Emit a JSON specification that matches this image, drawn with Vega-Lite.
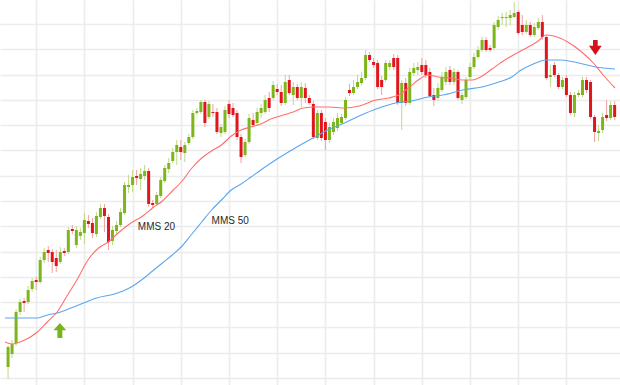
{
  "$schema": "https://vega.github.io/schema/vega-lite/v6.json",
  "width": 620,
  "height": 385,
  "autosize": {"type": "fit", "contains": "padding"},
  "padding": 0,
  "background": "white",
  "config": {
    "view": {"stroke": null},
    "axis": {"domain": false, "ticks": false, "labels": false, "title": null, "gridColor": "#ececec", "gridWidth": 1.6, "minExtent": 0, "maxExtent": 0}
  },
  "datasets": {
    "candles": [
      {"i":0,"o":33,"h":55,"l":21,"c":53},{"i":1,"o":46,"h":60,"l":42,"c":56},{"i":2,"o":57,"h":91,"l":54,"c":88},{"i":3,"o":88,"h":101,"l":85,"c":98},
      {"i":4,"o":99,"h":102,"l":88,"c":97},{"i":5,"o":98,"h":114,"l":96,"c":110},{"i":6,"o":111,"h":122,"l":108,"c":119},{"i":7,"o":120,"h":123,"l":110,"c":118},
      {"i":8,"o":118,"h":143,"l":116,"c":140},{"i":9,"o":140,"h":152,"l":137,"c":148},{"i":10,"o":150,"h":154,"l":138,"c":147},{"i":11,"o":148,"h":151,"l":127,"c":138},
      {"i":12,"o":142,"h":150,"l":128,"c":134},{"i":13,"o":138,"h":153,"l":136,"c":148},{"i":14,"o":149,"h":152,"l":144,"c":147},{"i":15,"o":148,"h":173,"l":146,"c":170},
      {"i":16,"o":171,"h":175,"l":166,"c":169},{"i":17,"o":155,"h":174,"l":152,"c":170},{"i":18,"o":164,"h":172,"l":160,"c":168},{"i":19,"o":167,"h":187,"l":156,"c":180},
      {"i":20,"o":179,"h":185,"l":172,"c":176},{"i":21,"o":177,"h":182,"l":162,"c":167},{"i":22,"o":166,"h":188,"l":163,"c":184},{"i":23,"o":183,"h":196,"l":181,"c":192},
      {"i":24,"o":192,"h":196,"l":168,"c":184},{"i":25,"o":183,"h":186,"l":150,"c":158},{"i":26,"o":159,"h":174,"l":155,"c":170},{"i":27,"o":169,"h":179,"l":165,"c":175},
      {"i":28,"o":175,"h":192,"l":173,"c":188},{"i":29,"o":187,"h":218,"l":185,"c":215},{"i":30,"o":213,"h":225,"l":207,"c":215},{"i":31,"o":215,"h":230,"l":208,"c":223},
      {"i":32,"o":224,"h":230,"l":215,"c":222},{"i":33,"o":221,"h":232,"l":210,"c":226},{"i":34,"o":224,"h":235,"l":220,"c":229},{"i":35,"o":229,"h":232,"l":193,"c":196},
      {"i":36,"o":197,"h":200,"l":192,"c":195},{"i":37,"o":196,"h":208,"l":194,"c":205},{"i":38,"o":204,"h":223,"l":202,"c":220},{"i":39,"o":219,"h":235,"l":217,"c":232},
      {"i":40,"o":231,"h":242,"l":227,"c":237},{"i":41,"o":239,"h":252,"l":237,"c":248},{"i":42,"o":248,"h":260,"l":235,"c":255},{"i":43,"o":253,"h":260,"l":240,"c":248},
      {"i":44,"o":247,"h":258,"l":238,"c":255},{"i":45,"o":257,"h":266,"l":255,"c":263},{"i":46,"o":263,"h":290,"l":261,"c":287},{"i":47,"o":287,"h":292,"l":285,"c":289},
      {"i":48,"o":288,"h":300,"l":286,"c":298},{"i":49,"o":298,"h":300,"l":273,"c":277},{"i":50,"o":283,"h":299,"l":281,"c":296},{"i":51,"o":288,"h":296,"l":283,"c":287},
      {"i":52,"o":288,"h":292,"l":266,"c":268},{"i":53,"o":267,"h":276,"l":263,"c":273},{"i":54,"o":268,"h":294,"l":266,"c":290},{"i":55,"o":296,"h":300,"l":282,"c":286},
      {"i":56,"o":292,"h":297,"l":283,"c":285},{"i":57,"o":287,"h":290,"l":260,"c":263},{"i":58,"o":263,"h":266,"l":237,"c":243},{"i":59,"o":245,"h":261,"l":243,"c":258},
      {"i":60,"o":258,"h":286,"l":256,"c":282},{"i":61,"o":280,"h":287,"l":273,"c":275},{"i":62,"o":277,"h":292,"l":274,"c":288},{"i":63,"o":287,"h":296,"l":282,"c":292},
      {"i":64,"o":288,"h":305,"l":286,"c":300},{"i":65,"o":302,"h":308,"l":288,"c":292},{"i":66,"o":302,"h":319,"l":300,"c":315},{"i":67,"o":311,"h":316,"l":305,"c":308},
      {"i":68,"o":308,"h":315,"l":294,"c":297},{"i":69,"o":297,"h":325,"l":295,"c":318},{"i":70,"o":320,"h":325,"l":305,"c":307},{"i":71,"o":305,"h":318,"l":295,"c":313},
      {"i":72,"o":313,"h":316,"l":300,"c":302},{"i":73,"o":302,"h":318,"l":293,"c":313},{"i":74,"o":312,"h":317,"l":297,"c":302},{"i":75,"o":302,"h":305,"l":295,"c":297},
      {"i":76,"o":296,"h":299,"l":261,"c":263},{"i":77,"o":262,"h":290,"l":260,"c":287},{"i":78,"o":287,"h":290,"l":259,"c":262},{"i":79,"o":278,"h":282,"l":250,"c":260},
      {"i":80,"o":260,"h":277,"l":257,"c":273},{"i":81,"o":268,"h":282,"l":265,"c":278},{"i":82,"o":272,"h":287,"l":269,"c":282},{"i":83,"o":277,"h":286,"l":275,"c":283},
      {"i":84,"o":282,"h":303,"l":280,"c":300},{"i":85,"o":310,"h":316,"l":304,"c":307},{"i":86,"o":307,"h":320,"l":305,"c":313},{"i":87,"o":313,"h":325,"l":311,"c":318},
      {"i":88,"o":317,"h":328,"l":315,"c":322},{"i":89,"o":322,"h":350,"l":320,"c":345},{"i":90,"o":345,"h":348,"l":338,"c":340},{"i":91,"o":338,"h":342,"l":332,"c":335},
      {"i":92,"o":337,"h":340,"l":311,"c":313},{"i":93,"o":320,"h":324,"l":305,"c":313},{"i":94,"o":320,"h":340,"l":318,"c":337},{"i":95,"o":333,"h":340,"l":330,"c":337},
      {"i":96,"o":342,"h":346,"l":330,"c":333},{"i":97,"o":342,"h":345,"l":295,"c":297},{"i":98,"o":297,"h":320,"l":270,"c":317},{"i":99,"o":317,"h":322,"l":294,"c":297},
      {"i":100,"o":297,"h":332,"l":295,"c":328},{"i":101,"o":327,"h":337,"l":324,"c":332},{"i":102,"o":330,"h":338,"l":325,"c":333},{"i":103,"o":335,"h":342,"l":325,"c":328},
      {"i":104,"o":335,"h":340,"l":322,"c":325},{"i":105,"o":328,"h":332,"l":302,"c":304},{"i":106,"o":305,"h":312,"l":294,"c":300},{"i":107,"o":302,"h":317,"l":299,"c":312},
      {"i":108,"o":310,"h":328,"l":308,"c":323},{"i":109,"o":318,"h":333,"l":315,"c":328},{"i":110,"o":330,"h":334,"l":315,"c":318},{"i":111,"o":318,"h":332,"l":315,"c":328},
      {"i":112,"o":328,"h":330,"l":300,"c":302},{"i":113,"o":300,"h":308,"l":296,"c":305},{"i":114,"o":303,"h":323,"l":301,"c":320},{"i":115,"o":323,"h":337,"l":321,"c":333},
      {"i":116,"o":333,"h":347,"l":331,"c":343},{"i":117,"o":343,"h":354,"l":341,"c":350},{"i":118,"o":350,"h":363,"l":348,"c":360},{"i":119,"o":360,"h":363,"l":348,"c":350},
      {"i":120,"o":352,"h":355,"l":348,"c":350},{"i":121,"o":352,"h":378,"l":350,"c":375},{"i":122,"o":373,"h":384,"l":370,"c":380},{"i":123,"o":382,"h":387,"l":375,"c":383},
      {"i":124,"o":382,"h":388,"l":373,"c":383},{"i":125,"o":382,"h":390,"l":375,"c":385},{"i":126,"o":383,"h":398,"l":382,"c":387},{"i":127,"o":388,"h":390,"l":365,"c":367},
      {"i":128,"o":375,"h":385,"l":365,"c":368},{"i":129,"o":368,"h":380,"l":366,"c":375},{"i":130,"o":375,"h":378,"l":363,"c":365},{"i":131,"o":365,"h":377,"l":363,"c":373},
      {"i":132,"o":372,"h":382,"l":370,"c":378},{"i":133,"o":378,"h":385,"l":360,"c":363},{"i":134,"o":363,"h":365,"l":320,"c":322},{"i":135,"o":323,"h":335,"l":313,"c":325},
      {"i":136,"o":335,"h":338,"l":323,"c":325},{"i":137,"o":325,"h":327,"l":311,"c":313},{"i":138,"o":313,"h":323,"l":311,"c":320},{"i":139,"o":322,"h":325,"l":303,"c":305},
      {"i":140,"o":305,"h":308,"l":285,"c":287},{"i":141,"o":287,"h":308,"l":283,"c":305},{"i":142,"o":305,"h":310,"l":303,"c":307},{"i":143,"o":305,"h":323,"l":303,"c":320},
      {"i":144,"o":320,"h":323,"l":307,"c":310},{"i":145,"o":318,"h":320,"l":281,"c":283},{"i":146,"o":283,"h":285,"l":258,"c":268},{"i":147,"o":267,"h":275,"l":259,"c":269},
      {"i":148,"o":270,"h":287,"l":267,"c":283},{"i":149,"o":285,"h":300,"l":279,"c":282},{"i":150,"o":282,"h":299,"l":280,"c":295},{"i":151,"o":295,"h":299,"l":280,"c":283}
    ],
    "ma20": [
      {"i":-0.76,"v":58},{"i":0.96,"v":56},{"i":4.14,"v":60},{"i":7.32,"v":68},{"i":9.77,"v":78},{"i":12.22,"v":88},{"i":14.67,"v":104},{"i":17.12,"v":120},
      {"i":20.06,"v":141},{"i":22.51,"v":152},{"i":24.96,"v":158},{"i":27.41,"v":167},{"i":30.59,"v":177},{"i":33.53,"v":184},{"i":35.98,"v":192},{"i":38.43,"v":199},
      {"i":40.88,"v":209},{"i":43.33,"v":219},{"i":45.77,"v":232},{"i":48.22,"v":242},{"i":50.67,"v":249},{"i":53.12,"v":255},{"i":55.57,"v":264},{"i":58.02,"v":270},
      {"i":60.47,"v":273},{"i":62.92,"v":276},{"i":65.37,"v":281},{"i":68.55,"v":285},{"i":71.0,"v":288},{"i":73.45,"v":292},{"i":76.39,"v":293},{"i":80.07,"v":293},
      {"i":83.74,"v":292},{"i":87.41,"v":294},{"i":91.58,"v":300},{"i":94.76,"v":302},{"i":97.21,"v":305},{"i":99.66,"v":312},{"i":102.11,"v":320},{"i":104.56,"v":325},
      {"i":107.0,"v":323},{"i":109.94,"v":322},{"i":113.13,"v":320},{"i":115.57,"v":320},{"i":118.02,"v":324},{"i":120.47,"v":331},{"i":122.92,"v":338},{"i":125.37,"v":344},
      {"i":128.56,"v":351},{"i":131.98,"v":359},{"i":133.94,"v":365},{"i":135.9,"v":364},{"i":139.33,"v":358},{"i":142.51,"v":349},{"i":145.69,"v":337},{"i":148.14,"v":325},
      {"i":151.09,"v":312}
    ],
    "ma50": [
      {"i":-0.76,"v":82},{"i":7.32,"v":82},{"i":9.77,"v":85},{"i":12.22,"v":87},{"i":15.65,"v":92},{"i":18.83,"v":97},{"i":22.02,"v":102},{"i":25.45,"v":105},
      {"i":28.63,"v":109},{"i":31.08,"v":114},{"i":33.53,"v":121},{"i":35.98,"v":129},{"i":38.43,"v":137},{"i":40.88,"v":145},{"i":43.33,"v":154},{"i":45.77,"v":166},
      {"i":48.22,"v":178},{"i":50.67,"v":190},{"i":53.12,"v":200},{"i":55.57,"v":210},{"i":58.02,"v":216},{"i":60.47,"v":223},{"i":62.92,"v":230},{"i":66.59,"v":240},
      {"i":71.49,"v":252},{"i":76.39,"v":263},{"i":79.57,"v":270},{"i":83.74,"v":277},{"i":87.41,"v":284},{"i":92.31,"v":292},{"i":96.48,"v":297},{"i":100.39,"v":299},
      {"i":104.56,"v":303},{"i":108.23,"v":305},{"i":113.13,"v":310},{"i":118.02,"v":313},{"i":122.19,"v":318},{"i":125.37,"v":323},{"i":127.33,"v":329},{"i":130.76,"v":336},
      {"i":133.94,"v":340},{"i":137.62,"v":340},{"i":142.02,"v":337},{"i":146.19,"v":333},{"i":151.09,"v":331}
    ]
  },
  "encoding": {
    "x": {"field": "i", "type": "quantitative", "scale": {"domain": [-0.76, 151.09], "nice": false, "zero": false},
          "axis": {"values": [7, 19, 31, 43, 55, 67, 79, 91, 103, 115, 127, 139], "grid": true}}
  },
  "layer": [
    {
      "data": {"name": "candles"},
      "mark": {"type": "rule", "strokeWidth": 1, "clip": true},
      "encoding": {
        "y": {"field": "l", "type": "quantitative", "scale": {"domain": [15, 400], "nice": false, "zero": false},
              "axis": {"values": [22, 47, 73, 98, 123, 148, 174, 199, 224, 250, 275, 300, 325, 351, 376], "grid": true}},
        "y2": {"field": "h"},
        "color": {"condition": {"test": "datum.c > datum.o", "value": "#bcdb8a"}, "value": "#f3a0a0"}
      }
    },
    {
      "data": {"name": "candles"},
      "mark": {"type": "bar", "width": 3, "clip": true},
      "encoding": {
        "y": {"field": "o", "type": "quantitative", "axis": {"values": [22, 47, 73, 98, 123, 148, 174, 199, 224, 250, 275, 300, 325, 351, 376], "grid": true}},
        "y2": {"field": "c"},
        "color": {"condition": {"test": "datum.c > datum.o", "value": "#7db51a"}, "value": "#e2141d"}
      }
    },
    {
      "data": {"name": "ma20"},
      "mark": {"type": "line", "color": "#ff6f6f", "strokeWidth": 1.1, "interpolate": "monotone", "clip": true},
      "encoding": {"y": {"field": "v", "type": "quantitative", "axis": {"values": [22, 47, 73, 98, 123, 148, 174, 199, 224, 250, 275, 300, 325, 351, 376], "grid": true}}}
    },
    {
      "data": {"name": "ma50"},
      "mark": {"type": "line", "color": "#5aa7f0", "strokeWidth": 1.1, "interpolate": "monotone", "clip": true},
      "encoding": {"y": {"field": "v", "type": "quantitative", "axis": {"values": [22, 47, 73, 98, 123, 148, 174, 199, 224, 250, 275, 300, 325, 351, 376], "grid": true}}}
    },
    {
      "data": {"values": [{"i": 32.3, "v": 173, "t": "MMS 20"}, {"i": 50.67, "v": 179, "t": "MMS 50"}]},
      "mark": {"type": "text", "align": "left", "baseline": "middle", "font": "Liberation Sans", "fontSize": 10, "color": "#2a2a2a"},
      "encoding": {"y": {"field": "v", "type": "quantitative", "axis": {"values": [22, 47, 73, 98, 123, 148, 174, 199, 224, 250, 275, 300, 325, 351, 376], "grid": true}}, "text": {"field": "t"}}
    },
    {
      "data": {"values": [{"i": 12.9, "v": 69.5}]},
      "mark": {"type": "point", "filled": true, "opacity": 1, "color": "#78b51b", "size": 225,
               "shape": "M0,-1 L0.85,-0.05 L0.33,-0.05 L0.33,1 L-0.33,1 L-0.33,-0.05 L-0.85,-0.05 Z"},
      "encoding": {"y": {"field": "v", "type": "quantitative", "axis": {"values": [22, 47, 73, 98, 123, 148, 174, 199, 224, 250, 275, 300, 325, 351, 376], "grid": true}}}
    },
    {
      "data": {"values": [{"i": 146.2, "v": 352.5}]},
      "mark": {"type": "point", "filled": true, "opacity": 1, "color": "#d4101b", "size": 225,
               "shape": "M0,1 L0.85,-0.24 L0.31,-0.24 L0.31,-1 L-0.31,-1 L-0.31,-0.24 L-0.85,-0.24 Z"},
      "encoding": {"y": {"field": "v", "type": "quantitative", "axis": {"values": [22, 47, 73, 98, 123, 148, 174, 199, 224, 250, 275, 300, 325, 351, 376], "grid": true}}}
    }
  ]
}
